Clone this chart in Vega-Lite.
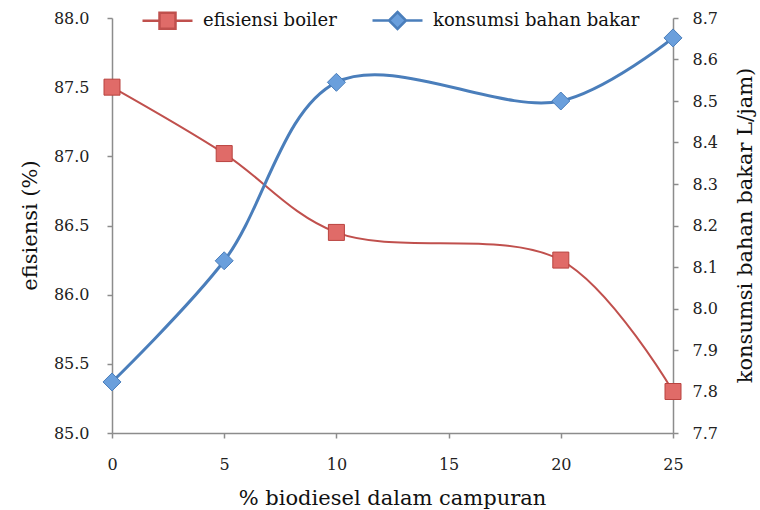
{
  "$schema": "https://vega.github.io/schema/vega-lite/v6.json",
  "width": 561,
  "height": 415,
  "autosize": {"type": "none"},
  "padding": {"left": 112, "top": 18, "right": 87, "bottom": 77},
  "background": "white",
  "config": {
    "view": {"stroke": null},
    "font": "DejaVu Serif",
    "axis": {
      "grid": false,
      "domainColor": "#8c8c8c",
      "tickColor": "#8c8c8c",
      "domainWidth": 1.5,
      "tickWidth": 1.5,
      "tickSize": 5,
      "labelFont": "DejaVu Serif",
      "labelFontSize": 16,
      "labelColor": "#222222",
      "labelFlush": false,
      "titleFont": "DejaVu Serif",
      "titleFontSize": 21,
      "titleFontWeight": "normal",
      "titleColor": "#111111"
    },
    "legend": {
      "orient": "none",
      "legendX": 29,
      "legendY": -24,
      "direction": "horizontal",
      "symbolSize": 2500,
      "symbolStrokeWidth": 2.5,
      "labelFont": "DejaVu Serif",
      "labelFontSize": 18,
      "labelColor": "#111111",
      "labelOffset": 9,
      "labelLimit": 0,
      "columnPadding": 30,
      "padding": 0
    }
  },
  "data": {
    "values": [
      {"pct": 0, "efisiensi": 87.5, "konsumsi": 7.823},
      {"pct": 5, "efisiensi": 87.02, "konsumsi": 8.115},
      {"pct": 10, "efisiensi": 86.45, "konsumsi": 8.545},
      {"pct": 20, "efisiensi": 86.25, "konsumsi": 8.5},
      {"pct": 25, "efisiensi": 85.3, "konsumsi": 8.652}
    ]
  },
  "layer": [
    {
      "layer": [
        {
          "mark": {"type": "line", "interpolate": "catmull-rom", "strokeWidth": 2},
          "encoding": {
            "x": {
              "field": "pct", "type": "quantitative",
              "scale": {"domain": [0, 25], "nice": false},
              "axis": {
                "values": [0, 5, 10, 15, 20, 25], "format": "d", "labelPadding": 18, "labelFlush": false,
                "title": "% biodiesel dalam campuran", "titleX": 280, "titleY": 65,
                "titleBaseline": "middle", "titleAnchor": null
              }
            },
            "y": {
              "field": "efisiensi", "type": "quantitative",
              "scale": {"domain": [85, 88], "nice": false, "zero": false},
              "axis": {
                "orient": "left",
                "values": [85, 85.5, 86, 86.5, 87, 87.5, 88], "format": ".1f", "labelPadding": 18,
                "title": "efisiensi (%)", "titleX": -82, "titleY": 207,
                "titleAngle": 270, "titleBaseline": "middle"
              }
            },
            "color": {
              "datum": "efisiensi boiler", "type": "nominal",
              "scale": {"domain": ["efisiensi boiler", "konsumsi bahan bakar"], "range": ["#c0504d", "#4a7ebb"]},
              "legend": {
                "title": null,
                "encode": {
                  "symbols": {
                    "update": {
                      "shape": {"signal": "datum.value === 'efisiensi boiler' ? 'M-1,0H-0.32M0.32,0H1M-0.32,-0.32H0.32V0.32H-0.32Z' : 'M-1,0H-0.34M0.34,0H1M0,-0.34L0.34,0L0,0.34L-0.34,0Z'"},
                      "fill": {"signal": "datum.value === 'efisiensi boiler' ? '#e06b68' : '#6a9fdc'"}
                    }
                  }
                }
              }
            }
          }
        },
        {
          "mark": {"type": "point", "shape": "square", "filled": true, "size": 256, "fill": "#e06b68", "stroke": "#b9433f", "strokeWidth": 1, "opacity": 1},
          "encoding": {
            "x": {"field": "pct", "type": "quantitative"},
            "y": {"field": "efisiensi", "type": "quantitative"}
          }
        }
      ]
    },
    {
      "layer": [
        {
          "mark": {"type": "line", "interpolate": "catmull-rom", "strokeWidth": 3},
          "encoding": {
            "x": {"field": "pct", "type": "quantitative"},
            "y": {
              "field": "konsumsi", "type": "quantitative",
              "scale": {"domain": [7.7, 8.7], "nice": false, "zero": false},
              "axis": {
                "orient": "right",
                "values": [7.7, 7.8, 7.9, 8.0, 8.1, 8.2, 8.3, 8.4, 8.5, 8.6, 8.7], "format": ".1f", "labelPadding": 14,
                "title": "konsumsi bahan bakar L/jam)", "titleX": 72, "titleY": 207,
                "titleAngle": 270, "titleBaseline": "middle"
              }
            },
            "color": {"datum": "konsumsi bahan bakar", "type": "nominal"}
          }
        },
        {
          "mark": {"type": "point", "shape": "diamond", "filled": true, "size": 324, "fill": "#6a9fdc", "stroke": "#4a7ebb", "strokeWidth": 1, "opacity": 1},
          "encoding": {
            "x": {"field": "pct", "type": "quantitative"},
            "y": {"field": "konsumsi", "type": "quantitative"}
          }
        }
      ]
    }
  ],
  "resolve": {"scale": {"y": "independent"}}
}
